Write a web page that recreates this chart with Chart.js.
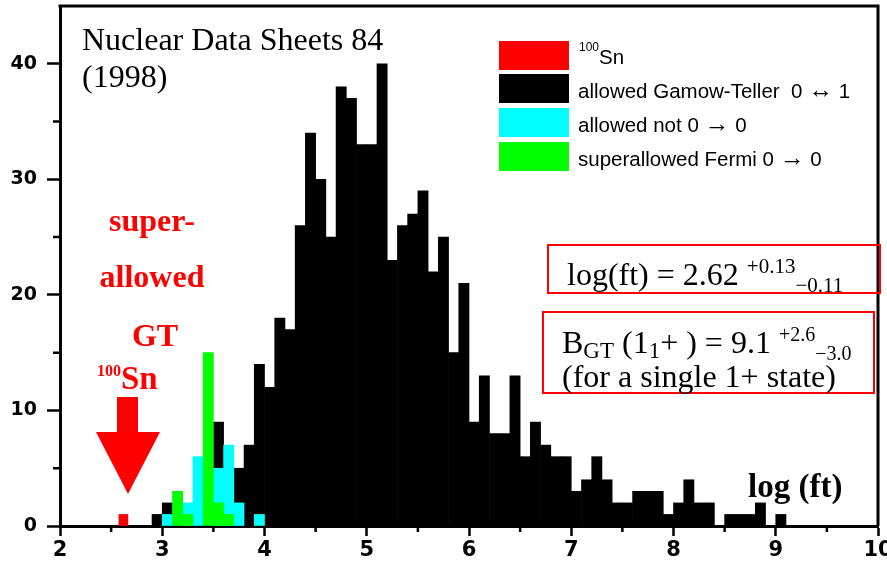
<!DOCTYPE html>
<html>
<head>
<meta charset="utf-8">
<script src="https://cdn.jsdelivr.net/npm/chart.js@4.4.1/dist/chart.umd.min.js"></script>
<style>
  html, body { margin: 0; padding: 0; background: #fff; }
  #wrap { width: 887px; height: 565px; position: relative; }
</style>
</head>
<body>
<div id="wrap"><canvas id="chart"></canvas></div>
<script>
// histogram bins of log(ft), width 0.1 (left edge of each bin)
const binStarts = [2.9, 3.0, 3.1, 3.2, 3.3, 3.4, 3.5, 3.6, 3.7, 3.8, 3.9,
  4.0, 4.1, 4.2, 4.3, 4.4, 4.5, 4.6, 4.7, 4.8, 4.9,
  5.0, 5.1, 5.2, 5.3, 5.4, 5.5, 5.6, 5.7, 5.8, 5.9,
  6.0, 6.1, 6.2, 6.3, 6.4, 6.5, 6.6, 6.7, 6.8, 6.9,
  7.0, 7.1, 7.2, 7.3, 7.4, 7.5, 7.6, 7.7, 7.8, 7.9,
  8.0, 8.1, 8.2, 8.3, 8.4, 8.5, 8.6, 8.7, 8.8, 8.9, 9.0];
const gamowTeller = [1, 2, 0, 0, 0, 0, 9, 0, 5, 7, 14,
  12, 18, 17, 26, 34, 30, 25, 38, 37, 33,
  33, 40, 23, 26, 27, 29, 22, 25, 15, 21,
  9, 13, 8, 8, 13, 6, 9, 7, 6, 6,
  3, 4, 6, 4, 2, 2, 3, 3, 3, 1,
  2, 4, 2, 2, 0, 1, 1, 1, 2, 0, 1];

// allowed, not 0 -> 0
const allowedBins = [3.0, 3.2, 3.3, 3.5, 3.6, 3.7, 3.9];
const allowedCounts = [1, 2, 6, 5, 7, 2, 1];

// superallowed Fermi 0 -> 0
const fermiBins = [3.1, 3.2, 3.4, 3.5, 3.6];
const fermiCounts = [3, 1, 15, 2, 1];

// 100Sn measurement
const snLogFt = [2.62];
const snCounts = [1];

const xTicks = [2, 3, 4, 5, 6, 7, 8, 9, 10];
const xMinorTicks = [2.5, 3.5, 4.5, 5.5, 6.5, 7.5, 8.5, 9.5];
const yTicks = [0, 10, 20, 30, 40];
const yMinorTicks = [5, 15, 25, 35];

const BIN = 0.1;
const toBars = (starts, counts) => starts.map((s, i) => ({ x: s + BIN / 2, y: counts[i] }));

const SERIF = '"Liberation Serif", "Times New Roman", serif';
const SANS = '"Liberation Sans", Arial, sans-serif';
const AXIS = '"DejaVu Sans", Arial, sans-serif';

// draw a run of text pieces one after another (for super/subscripts)
function drawRuns(ctx, x, y, parts) {
  for (const p of parts) {
    ctx.font = p.font;
    ctx.fillText(p.t, x, y + (p.dy || 0));
    x += ctx.measureText(p.t).width;
  }
  return x;
}

const decorations = {
  id: 'decorations',
  afterDraw(chart) {
    const { ctx, chartArea: a, scales } = chart;
    ctx.save();
    ctx.strokeStyle = '#000';
    ctx.lineWidth = 3;
    ctx.beginPath();
    ctx.moveTo(a.left - 1.5, a.top);
    ctx.lineTo(a.right, a.top);
    ctx.lineTo(a.right, a.bottom);
    ctx.stroke();

    // minor ticks
    ctx.lineWidth = 2.5;
    ctx.beginPath();
    for (const v of yMinorTicks) {
      const p = scales.y.getPixelForValue(v);
      ctx.moveTo(a.left - 7, p); ctx.lineTo(a.left, p);
    }
    for (const v of xMinorTicks) {
      const p = scales.x.getPixelForValue(v);
      ctx.moveTo(p, a.bottom); ctx.lineTo(p, a.bottom + 6);
    }
    ctx.stroke();

    ctx.textBaseline = 'alphabetic';
    ctx.textAlign = 'left';
    ctx.fillStyle = '#000';
    ctx.font = '32px ' + SERIF;
    ctx.fillText('Nuclear Data Sheets 84', 82, 50);
    ctx.fillText('(1998)', 82, 87);

    // legend
    const ds = chart.data.datasets;
    const lf = '20.5px ' + SANS, af = '25px ' + SANS;
    const legendItems = [
      { color: ds[3].backgroundColor, y: 41 },
      { color: ds[2].backgroundColor, y: 74, runs: [['allowed Gamow-Teller  0 ', lf], ['\u2194', af], [' 1', lf]] },
      { color: ds[1].backgroundColor, y: 108, runs: [['allowed not 0 ', lf], ['\u2192', af], [' 0', lf]] },
      { color: ds[0].backgroundColor, y: 142, runs: [['superallowed Fermi 0 ', lf], ['\u2192', af], [' 0', lf]] }
    ];
    for (const it of legendItems) {
      ctx.fillStyle = it.color;
      ctx.fillRect(499, it.y, 70, 29);
      ctx.fillStyle = '#000';
      if (it.runs) {
        drawRuns(ctx, 578, it.y + 24, it.runs.map(r => ({ t: r[0], font: r[1] })));
      }
    }
    drawRuns(ctx, 579, 64, [
      { t: '100', font: '12px ' + SANS, dy: -13 },
      { t: 'Sn', font: '20.5px ' + SANS }
    ]);

    // red annotation
    ctx.fillStyle = '#ff0000';
    ctx.textAlign = 'center';
    ctx.font = 'bold 32px ' + SERIF;
    ctx.fillText('super-', 152, 231);
    ctx.fillText('allowed', 152, 287);
    ctx.fillText('GT', 155, 346);
    ctx.textAlign = 'left';
    drawRuns(ctx, 97, 389, [
      { t: '100', font: 'bold 16px ' + SERIF, dy: -13 },
      { t: 'Sn', font: 'bold 33px ' + SERIF }
    ]);
    ctx.beginPath();
    ctx.moveTo(117, 397); ctx.lineTo(138, 397); ctx.lineTo(138, 432);
    ctx.lineTo(160, 432); ctx.lineTo(128, 494); ctx.lineTo(96, 432);
    ctx.lineTo(117, 432); ctx.closePath();
    ctx.fill();

    // result boxes
    ctx.strokeStyle = '#ff0000';
    ctx.lineWidth = 2;
    ctx.strokeRect(548, 245, 332, 48);
    ctx.strokeRect(543, 312, 331, 81);
    ctx.fillStyle = '#000';
    const x1 = drawRuns(ctx, 567, 285, [
      { t: 'log(ft) = 2.62 ', font: '32px ' + SERIF },
      { t: '+0.13', font: '21px ' + SERIF, dy: -12 }
    ]);
    drawRuns(ctx, x1, 292, [{ t: '\u22120.11', font: '21px ' + SERIF }]);
    const x2 = drawRuns(ctx, 562, 353, [
      { t: 'B', font: '32px ' + SERIF },
      { t: 'GT', font: '23px ' + SERIF, dy: 5 },
      { t: ' (1', font: '32px ' + SERIF },
      { t: '1', font: '23px ' + SERIF, dy: 5 },
      { t: '+ ) = 9.1 ', font: '32px ' + SERIF },
      { t: '+2.6', font: '20px ' + SERIF, dy: -12 }
    ]);
    drawRuns(ctx, x2, 360, [{ t: '\u22123.0', font: '20px ' + SERIF }]);
    ctx.font = '32px ' + SERIF;
    ctx.fillText('(for a single 1+ state)', 562, 387);

    ctx.font = 'bold 33px ' + SERIF;
    ctx.fillText('log (ft)', 748, 497);
    ctx.restore();
  }
};

new Chart(document.getElementById('chart'), {
  type: 'bar',
  data: {
    datasets: [
      { label: 'superallowed Fermi 0 \u2192 0', data: toBars(fermiBins, fermiCounts),
        backgroundColor: '#00ff00', order: 0 },
      { label: 'allowed not 0 \u2192 0', data: toBars(allowedBins, allowedCounts),
        backgroundColor: '#00ffff', order: 1 },
      { label: 'allowed Gamow-Teller 0 \u2194 1', data: toBars(binStarts, gamowTeller),
        backgroundColor: '#000000', order: 2 },
      { label: '100Sn', data: snLogFt.map((v, i) => ({ x: v, y: snCounts[i] })),
        backgroundColor: '#ff0000', xAxisID: 'xs', barThickness: 9, order: 3 }
    ]
  },
  options: {
    responsive: true,
    maintainAspectRatio: false,
    animation: false,
    grouped: false,
    barPercentage: 1,
    categoryPercentage: 1,
    borderWidth: 0,
    layout: { padding: { top: 6, right: 9, left: 0, bottom: 0 } },
    plugins: { legend: { display: false }, tooltip: { enabled: false } },
    scales: {
      x: {
        type: 'linear', min: 2, max: 10, offset: false,
        afterBuildTicks: s => { s.ticks = xTicks.map(v => ({ value: v })); },
        afterFit: s => { s.height = 39; s.paddingLeft = 0; s.paddingRight = 0; },
        grid: { offset: false, drawOnChartArea: false, tickLength: 10, tickWidth: 2.5, color: '#000' },
        border: { color: '#000', width: 3 },
        ticks: { color: '#000', padding: 2, maxRotation: 0,
          font: { family: AXIS, size: 21, weight: 'bold' } }
      },
      xs: { type: 'linear', min: 2, max: 10, offset: false, display: false },
      y: {
        min: 0, max: 45,
        afterBuildTicks: s => { s.ticks = yTicks.map(v => ({ value: v })); },
        afterFit: s => { s.width = 60; s.paddingTop = 0; s.paddingBottom = 0; },
        grid: { drawOnChartArea: false, tickLength: 13, tickWidth: 2.5, color: '#000' },
        border: { color: '#000', width: 3 },
        ticks: { color: '#000', padding: 10,
          font: { family: AXIS, size: 19, weight: 'bold' } }
      }
    }
  },
  plugins: [decorations]
});
</script>
</body>
</html>
